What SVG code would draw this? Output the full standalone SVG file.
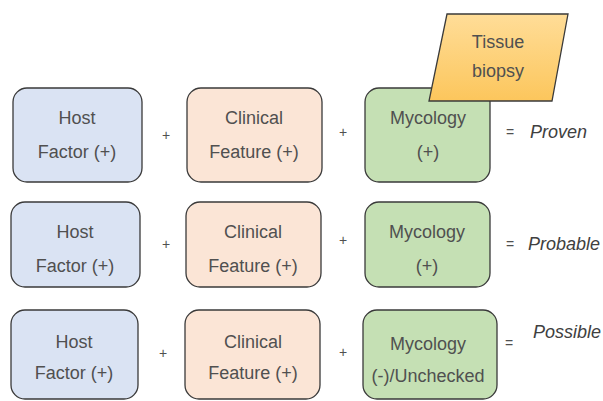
<svg xmlns="http://www.w3.org/2000/svg" width="603" height="401" viewBox="0 0 603 401">
<defs>
<linearGradient id="gOr" x1="0" y1="0" x2="0" y2="1">
<stop offset="0" stop-color="#ffdd98"/>
<stop offset="1" stop-color="#fcc65c"/>
</linearGradient>
</defs>
<style>
.box{stroke:#3a3a3a;stroke-width:1.3}
.host{fill:#dae3f3}
.clin{fill:#fbe5d6}
.myco{fill:#c5e0b4}
.t{font-family:"Liberation Sans",Arial,sans-serif;font-size:18px;fill:#505050;text-anchor:middle}
.op{font-family:"Liberation Sans",Arial,sans-serif;font-size:14px;fill:#505050;text-anchor:middle}
.res{font-family:"Liberation Sans",Arial,sans-serif;font-size:18px;font-style:italic;fill:#404040}
</style>
<rect width="603" height="401" fill="#ffffff"/>
<g id="row1">
<g id="host1"><rect class="box host" x="13" y="88" width="129" height="94" rx="14"/><text class="t" x="77" y="124">Host</text><text class="t" x="77" y="158">Factor (+)</text></g>
<text class="op" x="166" y="140">+</text>
<g id="clin1"><rect class="box clin" x="187" y="88" width="135" height="94" rx="14"/><text class="t" x="254" y="124">Clinical</text><text class="t" x="254" y="158">Feature (+)</text></g>
<text class="op" x="343" y="137">+</text>
<g id="myco1"><rect class="box myco" x="365" y="88" width="125" height="94" rx="14"/><text class="t" x="428" y="124">Mycology</text><text class="t" x="428" y="158">(+)</text></g>
<text class="op" x="510" y="137">=</text>
<text class="res" x="530" y="138">Proven</text>
</g>
<g id="tissue"><polygon class="box" fill="url(#gOr)" points="447,14 568,14 552,101 429,101"/><text class="t" x="498" y="48">Tissue</text><text class="t" x="498" y="77">biopsy</text></g>
<g id="row2">
<g id="host2"><rect class="box host" x="11" y="202" width="129" height="85" rx="14"/><text class="t" x="75" y="238">Host</text><text class="t" x="75" y="272">Factor (+)</text></g>
<text class="op" x="166" y="249">+</text>
<g id="clin2"><rect class="box clin" x="186" y="202" width="135" height="85" rx="14"/><text class="t" x="253" y="238">Clinical</text><text class="t" x="253" y="272">Feature (+)</text></g>
<text class="op" x="343" y="245">+</text>
<g id="myco2"><rect class="box myco" x="365" y="202" width="125" height="85" rx="14"/><text class="t" x="427" y="238">Mycology</text><text class="t" x="427" y="272">(+)</text></g>
<text class="op" x="510" y="249">=</text>
<text class="res" x="528" y="250">Probable</text>
</g>
<g id="row3">
<g id="host3"><rect class="box host" x="11" y="310" width="127" height="89" rx="14"/><text class="t" x="74" y="348">Host</text><text class="t" x="74" y="379">Factor (+)</text></g>
<text class="op" x="163" y="358">+</text>
<g id="clin3"><rect class="box clin" x="185" y="310" width="135" height="89" rx="14"/><text class="t" x="253" y="348">Clinical</text><text class="t" x="253" y="379">Feature (+)</text></g>
<text class="op" x="343" y="357">+</text>
<g id="myco3"><rect class="box myco" x="363" y="310" width="134" height="89" rx="14"/><text class="t" x="428" y="350">Mycology</text><text class="t" x="428" y="382">(-)/Unchecked</text></g>
<text class="op" x="509" y="348">=</text>
<text class="res" x="533" y="338">Possible</text>
</g>
</svg>
